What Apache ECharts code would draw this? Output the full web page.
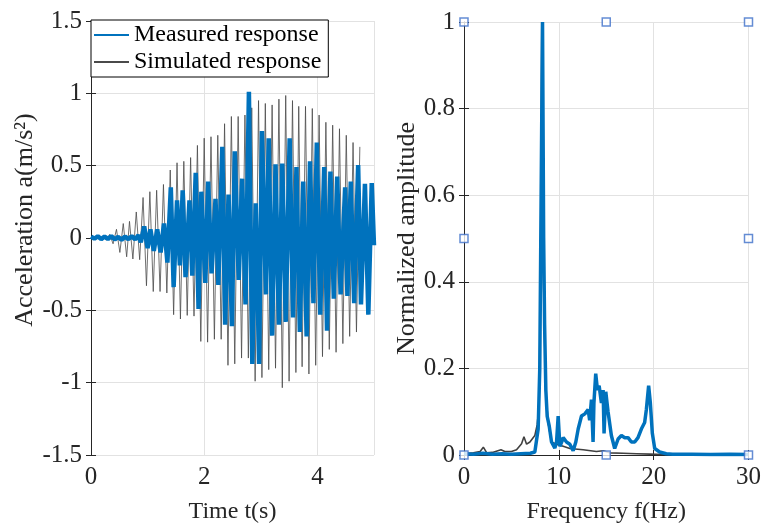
<!DOCTYPE html>
<html>
<head>
<meta charset="utf-8">
<script src="https://cdn.jsdelivr.net/npm/echarts/dist/echarts.min.js"></script>
<style>html,body{margin:0;padding:0;background:#fff;}#c{width:764px;height:529px;}</style>
</head>
<body>
<div id="c"></div>
<script>
// ---- Left panel: time histories (extremes) ----
const simTime = [0.00,0.08,0.14,0.21,0.27,0.33,0.39,0.45,0.51,0.57,0.63,0.68,0.74,0.80,0.86,0.92,0.98,1.04,1.10,1.16,1.22,1.28,1.34,1.40,1.46,1.52,1.58,1.64,1.70,1.76,1.82,1.88,1.94,2.00,2.06,2.12,2.18,2.24,2.30,2.36,2.42,2.48,2.54,2.60,2.66,2.72,2.78,2.84,2.90,2.96,3.02,3.08,3.14,3.20,3.26,3.32,3.38,3.44,3.50,3.56,3.62,3.67,3.73,3.79,3.85,3.91,3.97,4.03,4.09,4.15,4.21,4.27,4.33,4.39,4.45,4.51,4.57,4.63,4.69,4.75];
const simAcc = [0.000,0.008,-0.006,0.012,-0.015,0.025,-0.04,0.06,-0.10,0.10,-0.13,0.115,-0.145,0.18,-0.15,0.28,-0.33,0.32,-0.37,0.33,-0.37,0.37,-0.38,0.47,-0.53,0.52,-0.56,0.53,-0.535,0.556,-0.54,0.64,-0.715,0.69,-0.72,0.70,-0.70,0.71,-0.70,0.79,-0.88,0.84,-0.87,0.84,-0.83,0.85,-0.83,0.90,-0.99,0.95,-0.965,0.93,-0.91,0.92,-0.90,0.96,-1.035,0.985,-0.99,0.95,-0.93,0.91,-0.89,0.91,-0.94,0.895,-0.88,0.85,-0.82,0.80,-0.77,0.78,-0.79,0.755,-0.73,0.71,-0.68,0.66,-0.65,0.63];

const measTime = [0.00,0.06,0.12,0.18,0.24,0.30,0.36,0.42,0.48,0.54,0.60,0.66,0.72,0.78,0.84,0.88,0.94,1.00,1.05,1.11,1.17,1.23,1.29,1.35,1.41,1.46,1.52,1.57,1.62,1.67,1.74,1.79,1.85,1.90,1.95,2.02,2.07,2.13,2.20,2.25,2.32,2.37,2.43,2.49,2.54,2.61,2.67,2.73,2.79,2.85,2.91,2.97,3.02,3.09,3.14,3.20,3.26,3.32,3.38,3.44,3.51,3.57,3.63,3.69,3.75,3.81,3.87,3.93,3.99,4.05,4.12,4.17,4.23,4.29,4.35,4.41,4.49,4.53,4.59,4.65,4.72,4.77,4.84,4.90,4.96,5.00];
const measAcc = [0.010,-0.005,0.012,-0.008,0.010,-0.006,0.012,-0.010,0.008,-0.012,0.010,-0.008,0.012,-0.010,0.020,-0.03,0.08,-0.07,0.06,-0.09,0.06,-0.10,0.10,-0.17,0.35,-0.34,0.26,-0.19,0.33,-0.27,0.26,-0.26,0.45,-0.49,0.32,-0.31,0.39,-0.245,0.27,-0.325,0.63,-0.60,0.30,-0.61,0.60,-0.29,0.41,-0.46,1.01,-0.87,0.24,-0.87,0.74,-0.39,0.69,-0.675,0.51,-0.60,0.515,-0.58,0.69,-0.55,0.49,-0.65,0.39,-0.68,0.53,-0.45,0.66,-0.53,0.49,-0.64,0.46,-0.42,0.425,-0.39,0.35,-0.40,0.39,-0.45,0.505,-0.46,0.375,-0.53,0.38,-0.05];

// ---- Right panel: normalized spectra ----
const freqMeas = [0,1,2,3,4,5,6,7,7.47,7.82,7.99,8.17,8.28,8.40,8.50,8.63,8.77,8.98,9.23,9.58,9.76,9.93,10.11,10.30,10.46,10.81,11.16,11.51,11.79,12.04,12.39,12.74,13.09,13.25,13.44,13.61,13.70,13.89,14.07,14.25,14.49,14.67,14.77,14.95,15.19,15.54,15.89,16.25,16.60,16.95,17.30,17.65,18.00,18.35,18.70,19.05,19.23,19.47,19.65,19.86,20.11,20.63,21.33,22,24,26,28,30];
const ampMeas = [0.003,0.002,0.004,0.002,0.003,0.002,0.003,0.004,0.007,0.06,0.20,0.70,1.00,0.50,0.30,0.15,0.09,0.068,0.03,0.016,0.03,0.09,0.02,0.03,0.04,0.03,0.025,0.01,0.03,0.06,0.09,0.095,0.105,0.08,0.128,0.03,0.12,0.188,0.15,0.16,0.12,0.15,0.05,0.146,0.10,0.045,0.015,0.037,0.045,0.04,0.04,0.03,0.03,0.04,0.06,0.075,0.105,0.16,0.12,0.05,0.015,0.007,0.003,0.002,0.002,0.001,0.002,0.001];
const freqSim = [0,1,1.7,2.04,2.4,3,3.9,4.3,5.0,5.54,6.07,6.32,6.6,6.95,7.47,7.72,7.93,8.10,8.20,8.35,8.60,8.90,9.23,9.76,10.46,11.16,12.56,13.96,14.67,15.37,16.77,18.2,19.6,21,25,30];
const ampSim = [0.003,0.005,0.008,0.018,0.005,0.006,0.012,0.008,0.008,0.012,0.026,0.042,0.025,0.03,0.045,0.07,0.12,0.5,1.0,0.45,0.15,0.07,0.03,0.025,0.02,0.015,0.012,0.008,0.01,0.005,0.004,0.003,0.002,0.001,0.001,0.001];

// selection handles visible around the right axes
const handleX = [0,15,30,0,30,0,15,30];
const handleY = [1,1,1,0.5,0.5,0,0,0];

const zip = (a, b) => a.map((v, i) => [v, b[i]]);

const FONT = 'Liberation Serif';
const AX = '#262626';
const GRID = '#e2e2e2';
const BLUE = '#0072BD';
const TICK_FS = 25;
const NAME_FS = 24;

function mainX(grid, min, max, interval, name) {
  return {
    gridIndex: grid, type: 'value', min, max, interval,
    name, nameLocation: 'middle', nameGap: 45,
    nameTextStyle: { fontFamily: FONT, fontSize: NAME_FS, color: AX },
    axisLine: { show: true, lineStyle: { color: AX, width: 1 } },
    axisTick: { show: true, inside: true, length: 5, lineStyle: { color: AX } },
    axisLabel: { fontFamily: FONT, fontSize: TICK_FS, color: AX, margin: 10, showMaxLabel: grid === 1 },
    splitLine: { show: true, lineStyle: { color: GRID, width: 1 } }
  };
}
function mirrorX(grid, min, max, interval) {
  return {
    gridIndex: grid, type: 'value', position: 'top', min, max, interval,
    axisLine: { show: true, lineStyle: { color: AX, width: 1 } },
    axisTick: { show: true, inside: true, length: 5, lineStyle: { color: AX } },
    axisLabel: { show: false }, splitLine: { show: false }
  };
}
function mainY(grid, min, max, interval, name, nameGap, pad) {
  return {
    gridIndex: grid, type: 'value', min, max, interval,
    name, nameLocation: 'middle', nameGap,
    nameTextStyle: { fontFamily: FONT, fontSize: 26, color: AX, padding: pad },
    axisLine: { show: true, lineStyle: { color: AX, width: 1 } },
    axisTick: { show: true, inside: true, length: 5, lineStyle: { color: AX } },
    axisLabel: { fontFamily: FONT, fontSize: TICK_FS, color: AX, margin: 9 },
    splitLine: { show: true, lineStyle: { color: GRID, width: 1 } }
  };
}
function mirrorY(grid, min, max, interval) {
  return {
    gridIndex: grid, type: 'value', position: 'right', min, max, interval,
    axisLine: { show: true, lineStyle: { color: AX, width: 1 } },
    axisTick: { show: true, inside: true, length: 5, lineStyle: { color: AX } },
    axisLabel: { show: false }, splitLine: { show: false }
  };
}

const chart = echarts.init(document.getElementById('c'), null, { renderer: 'canvas' });
chart.setOption({
  backgroundColor: '#fff',
  animation: false,
  grid: [
    { left: 91, top: 21, width: 283, height: 442 },
    { left: 464, top: 22, width: 285, height: 441 }
  ],
  legend: {
    data: ['Measured response', 'Simulated response'],
    orient: 'vertical', left: 91, top: 20,
    itemWidth: 35, itemHeight: 25, itemGap: 3,
    padding: [3, 7, 3, 2],
    borderColor: '#000', borderWidth: 1, backgroundColor: '#fff',
    itemStyle: { opacity: 0 },
    textStyle: { fontFamily: FONT, fontSize: NAME_FS, color: '#000' },
    z: 10
  },
  xAxis: [
    mainX(0, 0, 5, 2, 'Time t(s)'),
    mirrorX(0, 0, 5, 2),
    mainX(1, 0, 30, 10, 'Frequency f(Hz)'),
    mirrorX(1, 0, 30, 10)
  ],
  yAxis: [
    mainY(0, -1.5, 1.5, 0.5, 'Acceleration a(m/s²)', 47, [0, 0, 0, 36]),
    mirrorY(0, -1.5, 1.5, 0.5),
    mainY(1, 0, 1, 0.2, 'Normalized amplitude', 43, 0),
    mirrorY(1, 0, 1, 0.2)
  ],
  series: [
    {
      name: 'Simulated response', type: 'line', xAxisIndex: 0, yAxisIndex: 0,
      data: zip(simTime, simAcc), symbol: 'none',
      lineStyle: { color: '#4a4a4a', width: 0.8 }, itemStyle: { color: '#4a4a4a' }
    },
    {
      name: 'Measured response', type: 'line', xAxisIndex: 0, yAxisIndex: 0,
      data: zip(measTime, measAcc), symbol: 'none',
      lineStyle: { color: BLUE, width: 4.5 }, itemStyle: { color: BLUE }
    },
    {
      name: 'Simulated spectrum', type: 'line', xAxisIndex: 2, yAxisIndex: 2,
      data: zip(freqSim, ampSim), symbol: 'none',
      lineStyle: { color: '#404040', width: 1.6 }
    },
    {
      name: 'Measured spectrum', type: 'line', xAxisIndex: 2, yAxisIndex: 2,
      data: zip(freqMeas, ampMeas), symbol: 'none',
      lineStyle: { color: BLUE, width: 3.5 }
    },
    {
      name: 'handles', type: 'scatter', xAxisIndex: 2, yAxisIndex: 2,
      data: zip(handleX, handleY), symbol: 'rect', symbolSize: 8, clip: false,
      itemStyle: { color: '#fff', borderColor: '#3d6fc9', borderWidth: 1.5 }, z: 5
    }
  ]
});
</script>
</body>
</html>
